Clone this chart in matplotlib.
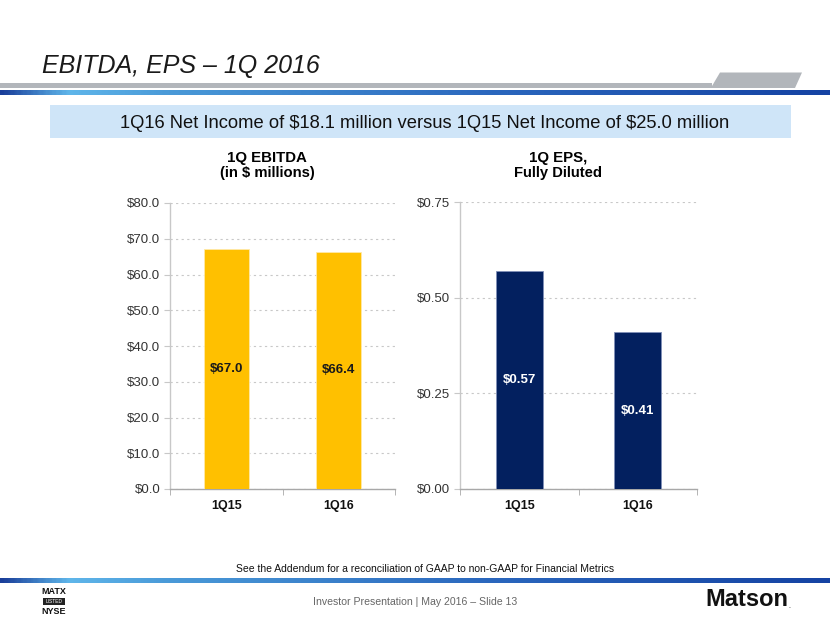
import matplotlib
matplotlib.use("Agg")
import matplotlib.pyplot as plt
import numpy as np
from matplotlib.patches import Polygon, Rectangle
from matplotlib.colors import LinearSegmentedColormap

plt.rcParams['font.family'] = ['Liberation Sans', 'DejaVu Sans']

# ---- data ----
categories = ["1Q15", "1Q16"]
ebitda = [67.0, 66.4]
ebitda_labels = ["$67.0", "$66.4"]
eps = [0.57, 0.41]
eps_labels = ["$0.57", "$0.41"]
ebitda_ticks = [0, 10, 20, 30, 40, 50, 60, 70, 80]
eps_ticks = [0.0, 0.25, 0.50, 0.75]

W, H = 830, 623
fig = plt.figure(figsize=(W / 100, H / 100), dpi=100)
fig.patch.set_facecolor("white")

def fx(px):
    return px / W

def fy(py):
    return 1 - py / H

# ---- header decoration ----
gray = "#b2b6bb"
fig.patches.append(Rectangle((0, fy(88)), fx(712), (88 - 82.5) / H, transform=fig.transFigure,
                             facecolor=gray, edgecolor="none"))
fig.patches.append(Polygon([(fx(700), fy(88)), (fx(712), fy(86)), (fx(720), fy(72.5)),
                            (fx(802), fy(72.5)), (fx(795), fy(88))],
                           closed=True, transform=fig.transFigure, facecolor=gray, edgecolor="none"))

grad_cmap = LinearSegmentedColormap.from_list(
    "g", [(0, "#1a3f9a"), (0.08, "#5fb6ea"), (0.2, "#4a9ad8"), (0.6, "#2a66bd"), (1, "#1543a3")])

def gradient_line(y0, y1):
    ax = fig.add_axes([0, fy(y1), 1, (y1 - y0) / H])
    ax.imshow(np.linspace(0, 1, 400)[None, :], aspect="auto", cmap=grad_cmap, extent=[0, 1, 0, 1])
    ax.set_axis_off()

gradient_line(90, 95)
gradient_line(578, 583)

fig.text(fx(42), fy(73), "EBITDA, EPS \u2013 1Q 2016", fontsize=18, style="italic",
         color="#1a1a1a", ha="left", va="baseline")

# light blue banner
fig.patches.append(Rectangle((fx(50), fy(138)), fx(741), (138 - 105) / H, transform=fig.transFigure,
                             facecolor="#cfe5f8", edgecolor="none"))
fig.text(fx(425), fy(123), r"1Q16 Net Income of \$18.1 million versus 1Q15 Net Income of \$25.0 million",
         fontsize=13.2, color="#111111", ha="center", va="center")

# ---- charts ----
tick_color = "#333333"

def style_axes(ax):
    ax.set_facecolor("white")
    for s in ["top", "right"]:
        ax.spines[s].set_visible(False)
    ax.spines["left"].set_color("#c8c8c8")
    ax.spines["bottom"].set_color("#a8a8a8")
    ax.spines["left"].set_linewidth(1.0)
    ax.spines["bottom"].set_linewidth(1.0)
    ax.grid(axis="y", linestyle=(0, (2, 3)), color="#c8c8c8", linewidth=0.8)
    ax.set_axisbelow(True)
    ax.set_xlim(-0.5, 1.5)
    ax.set_xticks(range(len(categories)))
    ax.set_xticklabels(categories, fontsize=9, fontweight="bold", color="#111111")
    ax.tick_params(axis="x", which="major", length=0, pad=8)
    ax.set_xticks([-0.5, 0.5, 1.5], minor=True)
    ax.tick_params(axis="x", which="minor", length=4, color="#a8a8a8", direction="out")
    ax.tick_params(axis="y", length=4, color="#c8c8c8", labelsize=9.5, labelcolor=tick_color, pad=3)

x = np.arange(len(categories))

# EBITDA
ax1 = fig.add_axes([fx(170), fy(489), fx(225), (489 - 203) / H])
style_axes(ax1)
ax1.bar(x, ebitda, width=0.4, color="#ffc000", edgecolor="#ffe9a8", linewidth=0.6, zorder=3)
ax1.set_ylim(0, 80)
ax1.set_yticks(ebitda_ticks)
ax1.set_yticklabels([f"${t:.1f}" for t in ebitda_ticks])
for xi, v, lab in zip(x, ebitda, ebitda_labels):
    ax1.text(xi, v / 2, lab, ha="center", va="center", fontsize=9.5, fontweight="bold",
             color="#1a1a1a", zorder=4)
fig.text(fx(267), fy(158), "1Q EBITDA", ha="center", va="center", fontsize=10.8, fontweight="bold")
fig.text(fx(267), fy(173), "(in $ millions)", ha="center", va="center", fontsize=10.6, fontweight="bold")

# EPS
ax2 = fig.add_axes([fx(460), fy(489), fx(237), (489 - 202) / H])
style_axes(ax2)
ax2.bar(x, eps, width=0.4, color="#03205f", edgecolor="#8090b8", linewidth=0.6, zorder=3)
ax2.set_ylim(0, 0.75)
ax2.set_yticks(eps_ticks)
ax2.set_yticklabels([f"${t:.2f}" for t in eps_ticks])
for xi, v, lab in zip(x, eps, eps_labels):
    ax2.text(xi, v / 2, lab, ha="center", va="center", fontsize=9.5, fontweight="bold",
             color="white", zorder=4)
fig.text(fx(558), fy(158), "1Q EPS,", ha="center", va="center", fontsize=10.8, fontweight="bold")
fig.text(fx(558), fy(173), "Fully Diluted", ha="center", va="center", fontsize=10.6, fontweight="bold")

# ---- footer ----
fig.text(fx(425), fy(569), "See the Addendum for a reconciliation of GAAP to non-GAAP for Financial Metrics",
         ha="center", va="center", fontsize=7.45, color="#111111")
fig.text(fx(415), fy(602), "Investor Presentation | May 2016 \u2013 Slide 13",
         ha="center", va="center", fontsize=7.6, color="#666666")

# MATX logo
fig.text(fx(54), fy(591), "MATX", ha="center", va="center", fontsize=6.5, fontweight="bold", color="#111111")
fig.patches.append(Rectangle((fx(43), fy(605)), fx(22), 7 / H, transform=fig.transFigure,
                             facecolor="#222222", edgecolor="none"))
fig.text(fx(54), fy(601.5), "LISTED", ha="center", va="center", fontsize=3.5, color="white")
fig.text(fx(54), fy(611), "NYSE", ha="center", va="center", fontsize=6.5, fontweight="bold", color="#111111")

# Matson logo
fig.text(fx(747), fy(600), "Matson", ha="center", va="center", fontsize=17, fontweight="bold",
         color="#111111")
fig.text(fx(788), fy(607), ".", ha="left", va="center", fontsize=5, color="#111111")

fig.savefig("out.png", dpi=100)
